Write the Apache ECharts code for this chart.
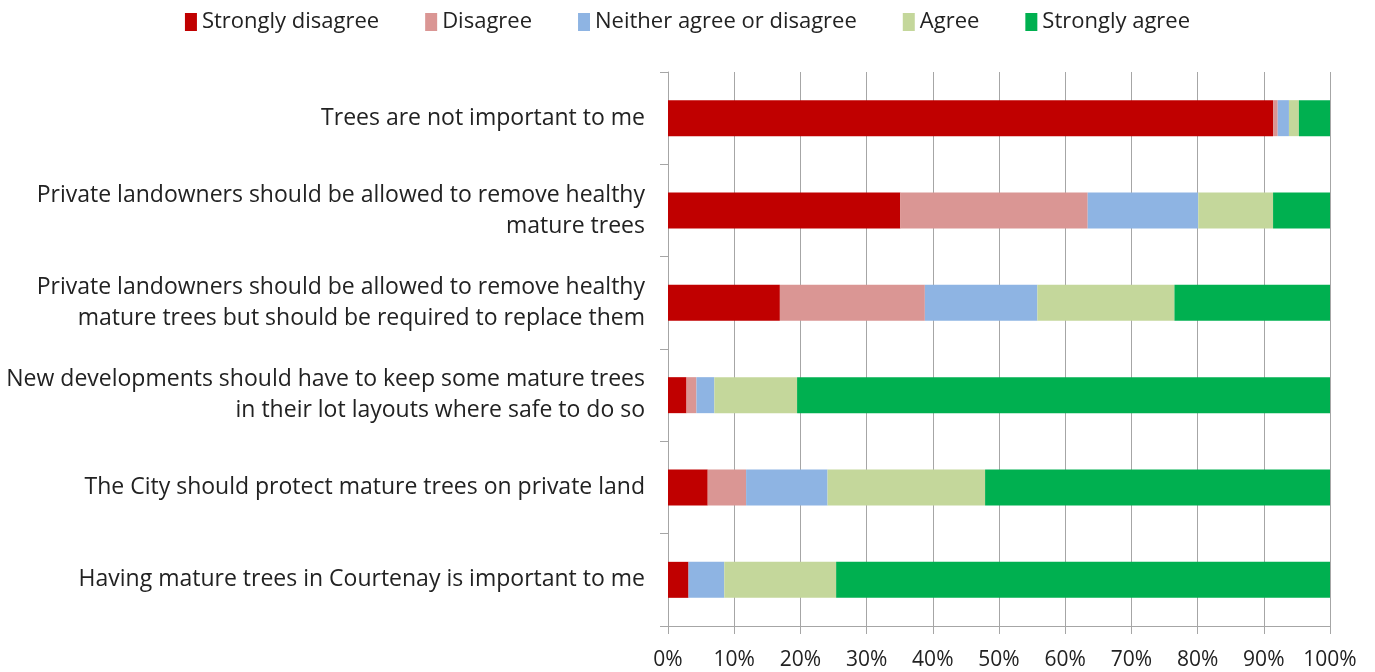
<!DOCTYPE html>
<html><head><meta charset="utf-8">
<script src="https://cdn.jsdelivr.net/npm/echarts@6/dist/echarts.min.js"></script>
<style>html,body{margin:0;padding:0;background:#fff}#c{width:1375px;height:672px}</style>
</head><body><div id="c"></div>
<script>
const categories = [
  "Trees are not important to me",
  "Private landowners should be allowed to remove healthy\nmature trees",
  "Private landowners should be allowed to remove healthy\nmature trees but should be required to replace them",
  "New developments should have to keep some mature trees\nin their lot layouts where safe to do so",
  "The City should protect mature trees on private land",
  "Having mature trees in Courtenay is important to me"
];
const seriesNames = ["Strongly disagree","Disagree","Neither agree or disagree","Agree","Strongly agree"];
const stronglyDisagree = [91.4, 35.1, 16.9, 2.8, 6.0, 3.1];
const disagree         = [0.7, 28.3, 21.9, 1.5, 5.8, 0.0];
const neither          = [1.7, 16.7, 17.0, 2.7, 12.3, 5.4];
const agree            = [1.5, 11.3, 20.7, 12.5, 23.8, 16.9];
const stronglyAgree    = [4.7, 8.6, 23.5, 80.5, 52.1, 74.6];
const colors = ["#C00000","#DA9694","#8EB4E3","#C4D79B","#00B050"];
const values = [stronglyDisagree, disagree, neither, agree, stronglyAgree];
const font = "Open Sans";
const chart = echarts.init(document.getElementById('c'));
chart.setOption({
  animation:false,
  color: colors,
  legend:{
    top: 6, left:'center', itemWidth:12, itemHeight:18, itemGap:46,
    textStyle:{fontFamily:font, fontSize:22, color:'#222'},
    icon:'rect',
    data: seriesNames
  },
  grid:{left:668, right:45, top:72, bottom:46, containLabel:false},
  xAxis:{
    type:'value', min:0, max:100, interval:10,
    axisLine:{show:true, lineStyle:{color:'#a6a6a6'}},
    axisTick:{show:true, length:8, lineStyle:{color:'#a6a6a6'}},
    axisLabel:{formatter:'{value}%', fontFamily:font, fontSize:21, color:'#222', margin:24},
    splitLine:{show:true, lineStyle:{color:'#a6a6a6'}}
  },
  yAxis:{
    type:'category', inverse:true, data:categories,
    axisLine:{show:true, lineStyle:{color:'#a6a6a6'}},
    axisTick:{show:true, length:8, lineStyle:{color:'#a6a6a6'}},
    axisLabel:{fontFamily:font, fontSize:23, color:'#222', margin:23, lineHeight:31, align:'right'}
  },
  series: seriesNames.map((n,i)=>({
    name:n, type:'bar', stack:'s', barWidth:36,
    data: values[i],
    itemStyle:{color:colors[i]}
  }))
});
</script></body></html>
